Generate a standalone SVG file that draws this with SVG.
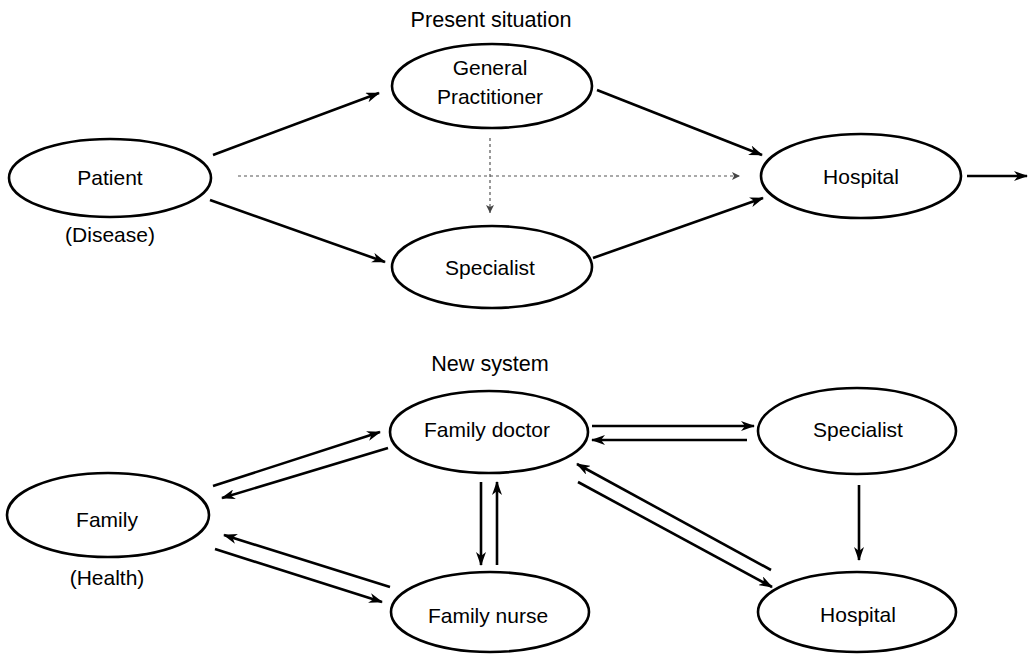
<svg xmlns="http://www.w3.org/2000/svg" width="1028" height="657" viewBox="0 0 1028 657">
<defs>
<marker id="ah" viewBox="0 0 14 10" refX="13" refY="5" markerWidth="14" markerHeight="10" markerUnits="userSpaceOnUse" orient="auto">
<path d="M0,0 L14,5 L0,10 L4,5 z" fill="#000"/>
</marker>
<marker id="ahd" viewBox="0 0 8 8" refX="8" refY="4" markerWidth="8" markerHeight="8" markerUnits="userSpaceOnUse" orient="auto">
<path d="M0,0 L8,4 L0,8 L2,4 z" fill="#444"/>
</marker>
<style>
.node ellipse{fill:#fff;stroke:#000;stroke-width:2.6}
text{font-family:"Liberation Sans",Arial,sans-serif;font-size:21px;fill:#000;text-anchor:middle}
.title{font-size:21.6px}
.c{stroke:#000;stroke-width:2.6;fill:none;marker-end:url(#ah)}
.d{stroke:#555;stroke-width:1.2;fill:none;stroke-dasharray:3 3;marker-end:url(#ahd)}
</style>
</defs>
<rect width="1028" height="657" fill="#fff"/>
<text class="title" x="491" y="27">Present situation</text>
<text class="title" x="490" y="371">New system</text>

<g id="connectors">
<line class="c" x1="213" y1="155" x2="379" y2="93"/>
<line class="c" x1="210" y1="200" x2="385" y2="262"/>
<line class="c" x1="597" y1="90" x2="762" y2="155"/>
<line class="c" x1="593" y1="258" x2="763" y2="198"/>
<line class="c" x1="967" y1="176" x2="1027" y2="176"/>
<line class="d" x1="238" y1="176" x2="740" y2="176"/>
<line class="d" x1="490" y1="138" x2="490" y2="213"/>

<line class="c" x1="213" y1="486" x2="380" y2="432"/>
<line class="c" x1="388" y1="448" x2="222" y2="498"/>
<line class="c" x1="390" y1="587" x2="224" y2="535"/>
<line class="c" x1="215" y1="549" x2="382" y2="602"/>
<line class="c" x1="481" y1="482" x2="481" y2="565"/>
<line class="c" x1="497" y1="565" x2="497" y2="482"/>
<line class="c" x1="592" y1="426" x2="754" y2="426"/>
<line class="c" x1="747" y1="440" x2="592" y2="440"/>
<line class="c" x1="859" y1="485" x2="859" y2="560"/>
<line class="c" x1="771" y1="570" x2="577" y2="464"/>
<line class="c" x1="578" y1="482" x2="772" y2="587"/>
</g>

<g id="patient" class="node">
<ellipse cx="110" cy="178" rx="101" ry="39"/>
<text x="110" y="185">Patient</text>
<text x="110" y="242">(Disease)</text>
</g>
<g id="gp" class="node">
<ellipse cx="492" cy="86" rx="100" ry="42"/>
<text x="490" y="75">General</text>
<text x="490" y="104">Practitioner</text>
</g>
<g id="specialist-top" class="node">
<ellipse cx="492" cy="267" rx="100" ry="41"/>
<text x="490" y="275">Specialist</text>
</g>
<g id="hospital-top" class="node">
<ellipse cx="861" cy="176" rx="100" ry="42"/>
<text x="861" y="184">Hospital</text>
</g>

<g id="family" class="node">
<ellipse cx="108" cy="515" rx="101" ry="42"/>
<text x="107" y="527">Family</text>
<text x="107" y="585">(Health)</text>
</g>
<g id="family-doctor" class="node">
<ellipse cx="489" cy="432" rx="99" ry="41"/>
<text x="487" y="437">Family doctor</text>
</g>
<g id="family-nurse" class="node">
<ellipse cx="490" cy="612" rx="99" ry="40"/>
<text x="488" y="623">Family nurse</text>
</g>
<g id="specialist-new" class="node">
<ellipse cx="857" cy="431" rx="99" ry="43"/>
<text x="858" y="437">Specialist</text>
</g>
<g id="hospital-new" class="node">
<ellipse cx="857" cy="612" rx="99" ry="40"/>
<text x="858" y="622">Hospital</text>
</g>
</svg>
